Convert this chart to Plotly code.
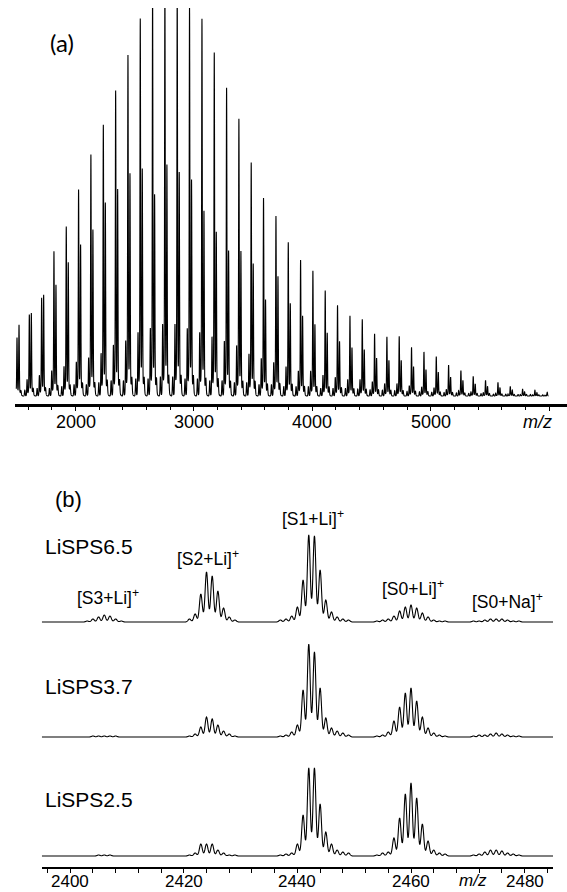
import numpy as np
import plotly.graph_objects as go

# ---------------- Panel (a): full MALDI spectrum ----------------
# main [S1+Li]+ peak of every oligomer (m/z) and relative intensities (%)
mz_a = [1506, 1610, 1714, 1818, 1922, 2026, 2130, 2235, 2339, 2443, 2547,
        2651, 2755, 2859, 2963, 3068, 3172, 3276, 3380, 3484, 3588, 3693,
        3797, 3901, 4005, 4109, 4213, 4318, 4422, 4526, 4630, 4734, 4838,
        4943, 5047, 5151, 5255, 5359, 5463, 5568, 5672, 5776, 5880, 5984]
s1_a = [14, 19.6, 23.6, 35, 41, 50, 58.5, 65.7, 74, 82.7, 91.6,
        98.4, 100, 99, 94.7, 91.8, 83.6, 75, 67.4, 56.7, 48.2, 43.6,
        37.3, 33, 30.4, 25.6, 22, 19.5, 18.6, 15.1, 14.4, 14.5, 11.8,
        10.7, 9.6, 7.5, 6.2, 4.8, 3.8, 3.3, 2.3, 1.7, 1.4, 0.9]
# neighbouring peaks of each oligomer: [S0+Li]+ (+17), [S2+Li]+ (-19),
# [S3+Li]+ (-38) and [S0+Na]+ (+33)
s0_a = [17.2, 20, 24.4, 26.6, 32, 36.2, 39.7, 46.2, 49.3, 53, 54,
        47.5, 54.8, 53, 51.2, 43.6, 38.6, 34.2, 34.2, 31.4, 22.7, 28.5,
        22, 19, 17, 15, 13, 11.5, 11, 9, 8.5, 8.5, 7,
        6.3, 5.7, 4.5, 3.7, 2.9, 2.3, 2, 1.4, 1, 0.8, 0.5]
s2_a = [3, 4, 5, 6, 7, 8, 9, 10, 12, 13, 15,
        16, 17, 17, 16, 15, 14, 13, 12, 10, 9, 8,
        7, 6, 6, 5, 4.5, 4, 4, 3.5, 3, 3, 2.5,
        2.2, 2, 1.6, 1.3, 1, 0.8, 0.7, 0.5, 0.4, 0.3, 0.2]
s3_a = [1.5, 1.5, 2, 2, 2.5, 3, 3, 3.5, 4, 4, 4.5,
        4.5, 5, 5, 4.5, 4.5, 4, 4, 3.5, 3.5, 3, 3,
        2.5, 2.5, 2.5, 2, 2, 2, 1.8, 1.6, 1.5, 1.4, 1.2,
        1.1, 1, 0.9, 0.8, 0.7, 0.6, 0.5, 0.5, 0.4, 0.4, 0.3]
na_a = [1, 1.5, 1.5, 2, 2, 2.5, 2.5, 3, 3, 3.5, 3.5,
        3.5, 4, 4, 4, 3.5, 3.5, 3, 3, 3, 2.5, 2.5,
        2.5, 2, 2, 2, 1.8, 1.6, 1.5, 1.4, 1.3, 1.2, 1.1,
        1, 0.9, 0.8, 0.7, 0.6, 0.6, 0.5, 0.4, 0.4, 0.3, 0.3]
ticks_a = [2000, 3000, 4000, 5000, 6000]

# ---------------- Panel (b): zoom 2395-2485 for three samples ----------------
mz_b = [2403, 2404, 2405, 2406, 2407, 2408, 2409,
        2421, 2422, 2423, 2424, 2425, 2426, 2427, 2428, 2429,
        2437, 2438, 2439, 2440, 2441, 2442, 2443, 2444, 2445, 2446, 2447, 2448, 2449,
        2454, 2455, 2456, 2457, 2458, 2459, 2460, 2461, 2462, 2463, 2464, 2465, 2466,
        2471, 2472, 2473, 2474, 2475, 2476, 2477, 2478, 2479]
lisps65 = [1, 3, 5, 7, 6, 3, 1,
           3, 8, 28, 50, 46, 31, 14, 5, 2,
           2, 3, 6, 15, 42, 87, 86, 52, 22, 10, 5, 3, 2,
           1, 2, 3, 6, 11, 15, 17, 14, 9, 5, 2, 1, 1,
           1, 1, 2, 3, 3, 3, 2, 1, 1]
lisps37 = [0, 1, 1, 1, 1, 1, 0,
           1, 3, 10, 20, 18, 12, 6, 3, 1,
           1, 2, 5, 12, 47, 93, 85, 49, 19, 9, 6, 4, 2,
           1, 2, 5, 16, 30, 44, 49, 36, 20, 9, 4, 2, 1,
           1, 2, 2, 3, 4, 3, 2, 1, 1]
lisps25 = [0, 0, 1, 1, 1, 0, 0,
           1, 3, 12, 12, 12, 6, 3, 1, 1,
           1, 2, 3, 12, 41, 88, 88, 52, 24, 12, 6, 4, 3,
           1, 3, 4, 18, 38, 62, 73, 58, 32, 15, 6, 3, 2,
           1, 2, 4, 6, 6, 5, 3, 2, 1]
samples_b = ["LiSPS6.5", "LiSPS3.7", "LiSPS2.5"]
ion_labels = ["[S3+Li]<sup>+</sup>", "[S2+Li]<sup>+</sup>", "[S1+Li]<sup>+</sup>",
              "[S0+Li]<sup>+</sup>", "[S0+Na]<sup>+</sup>"]
ion_label_mz = [2406.7, 2424.2, 2442.8, 2460.3, 2477]
ticks_b = [2400, 2420, 2440, 2460, 2480]

# ---------------- build profiles from the peak lists ----------------
def profile(grid, centers, heights, sigma, broad=None, broad_frac=0.0):
    y = np.zeros_like(grid)
    for c, h in zip(centers, heights):
        y += h * np.exp(-0.5 * ((grid - c) / sigma) ** 2)
        if broad:
            y += broad_frac * h * np.exp(-0.5 * ((grid - c) / broad) ** 2)
    return y

xa = np.arange(1500, 5996, 0.5)
ya = (profile(xa, mz_a, s1_a, 2.6, 12, 0.06)
      + profile(xa, [m + 17 for m in mz_a], s0_a, 2.6, 12, 0.06)
      + profile(xa, [m - 19 for m in mz_a], s2_a, 2.6)
      + profile(xa, [m - 38 for m in mz_a], s3_a, 3.0)
      + profile(xa, [m + 33 for m in mz_a], na_a, 3.0))

xb = np.arange(2395, 2485.01, 0.05)
yb = [profile(xb, mz_b, s, 0.25) for s in (lisps65, lisps37, lisps25)]

H, W = 892, 567
def py(px):
    return 1 - px / H

font_arial = "Liberation Sans, Arial, sans-serif"

fig = go.Figure()
fig.add_trace(go.Scatter(x=xa, y=ya, mode="lines", xaxis="x", yaxis="y",
                         line=dict(color="black", width=1.1, simplify=False),
                         hoverinfo="skip", showlegend=False))
for i, y in enumerate(yb):
    fig.add_trace(go.Scatter(x=xb, y=y, mode="lines", xaxis="x2", yaxis=f"y{i+2}",
                             line=dict(color="black", width=1.1, simplify=False),
                             hoverinfo="skip", showlegend=False))

tickfont_a = dict(family=font_arial, size=18, color="black")
tickfont_b = dict(family=font_arial, size=17, color="black")

fig.update_layout(
    width=W, height=H, margin=dict(l=0, r=0, t=0, b=0),
    paper_bgcolor="white", plot_bgcolor="white",
    xaxis=dict(domain=[15 / W, 1], range=[1489, 6151], anchor="y",
               tickvals=ticks_a, showticklabels=False,
               ticks="outside", ticklen=4, tickwidth=1, tickcolor="black",
               minor=dict(dtick=200, tick0=2000, ticks="outside", ticklen=3,
                          tickcolor="black", tickwidth=1),
               showline=True, linecolor="black", linewidth=2.5,
               showgrid=False, zeroline=False),
    yaxis=dict(domain=[py(404), py(8)], range=[-2.08, 101.04], visible=False,
               anchor="x"),
    xaxis2=dict(domain=[41.8 / W, 553 / W], range=[2395, 2485], anchor="y4",
                tickvals=ticks_b, showticklabels=False,
                ticks="outside", ticklen=4, tickwidth=1, tickcolor="black",
                minor=dict(dtick=4, tick0=2400, ticks="outside", ticklen=4,
                           tickcolor="black", tickwidth=1),
                showline=True, linecolor="black", linewidth=1.5,
                showgrid=False, zeroline=False),
    yaxis2=dict(domain=[py(630), py(520)], range=[-8, 102], visible=False, anchor="x2"),
    yaxis3=dict(domain=[py(745), py(635)], range=[-8, 102], visible=False, anchor="x2"),
    yaxis4=dict(domain=[py(867), py(757)], range=[-11, 99], visible=False, anchor="x2"),
)

C = dict(xanchor="center", yanchor="middle", showarrow=False)
ann = []
# tick labels (placed on the axes' own data coordinates)
for t in ticks_a[:-1]:
    ann.append(dict(text=str(t), x=t, xref="x", y=py(422), yref="paper",
                    font=tickfont_a, **C))
ann.append(dict(text="<i>m/z</i>", x=5900, xref="x", y=py(422), yref="paper",
                font=tickfont_a, **C))
for t in ticks_b:
    ann.append(dict(text=str(t), x=t, xref="x2", y=py(881.5), yref="paper",
                    font=tickfont_b, **C))
ann.append(dict(text="<i>m/z</i>", x=2471, xref="x2", y=py(880.5), yref="paper",
                font=tickfont_b, **C))
# panel letters and sample names
ann.append(dict(text="(a)", x=62 / W, y=py(42), xref="paper", yref="paper",
                font=dict(family="Lato, sans-serif", size=24, color="black"), **C))
ann.append(dict(text="(b)", x=68 / W, y=py(499), xref="paper", yref="paper",
                font=dict(family=font_arial, size=22, color="black"), **C))
for name, ypx in zip(samples_b, [546, 686, 799]):
    ann.append(dict(text=name, x=43 / W, y=py(ypx), xref="paper", yref="paper",
                    xanchor="left", yanchor="middle", showarrow=False,
                    font=dict(family=font_arial, size=21, color="black")))
for lab, mzv, ypx in zip(ion_labels, ion_label_mz, [597, 558, 518, 588, 601]):
    ann.append(dict(text=lab, x=mzv, xref="x2", y=py(ypx), yref="paper",
                    font=dict(family=font_arial, size=17.5, color="black"), **C))
fig.update_layout(annotations=ann)

fig.write_html("out.html",
               config={"displayModeBar": False, "staticPlot": True},
               post_script="document.body.style.margin='0';"
                           "document.body.style.overflow='hidden';")
